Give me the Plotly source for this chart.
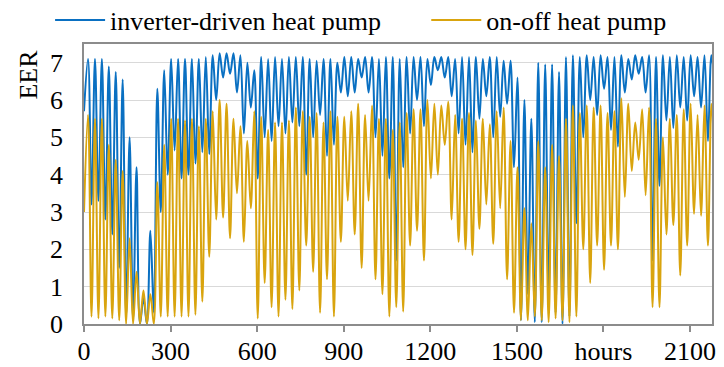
import plotly.graph_objects as go

# ---- data (EER per daily cycle) ----
inv_start = 5.7
on_start = 3.0

inv_peak = [7.1, 7.1, 7.1, 6.9, 6.75, 6.55, 5.0, 4.2, 0.7, 2.5,
            6.3, 6.8, 7.1, 7.1, 7.1, 7.1, 7.1, 7.15, 7.2, 7.25,
            7.25, 7.25, 7.2, 7.0, 6.8, 7.15, 7.1, 7.15, 7.1, 7.15,
            7.15, 7.15, 7.1, 7.05, 7.1, 7.1, 7.0, 7.15, 7.15, 7.1,
            7.15, 7.15, 7.1, 7.15, 7.15, 7.1, 7.15, 7.15, 7.15, 7.1,
            7.15, 7.15, 7.15, 7.1, 7.15, 7.15, 7.15, 7.1, 7.15, 7.15,
            7.05, 7.05, 6.6, 6.0, 5.5, 7.0, 6.95, 6.95, 6.75, 7.15,
            7.2, 7.15, 7.2, 7.15, 7.2, 7.15, 7.15, 7.2, 7.1, 7.2,
            7.15, 7.2, 7.15, 7.2, 7.15, 7.2, 7.15, 7.2, 7.15, 7.2, 7.2]

inv_trough = [3.2, 3.3, 2.8, 2.4, 1.5, 0.2, 0.1, 0.0, 0.0, 0.3,
              3.0, 4.0, 4.65, 3.9, 4.0, 4.3, 4.6, 4.55, 6.0, 6.6,
              6.7, 6.2, 5.1, 5.8, 3.9, 5.0, 4.9, 5.3, 5.1, 5.4,
              5.3, 4.0, 5.0, 5.6, 4.5, 4.8, 6.2, 6.1, 6.2, 6.6,
              6.2, 5.0, 4.5, 3.9, 1.7, 4.2, 5.1, 6.0, 5.3, 6.4,
              6.8, 6.6, 6.1, 5.1, 4.8, 4.6, 5.5, 6.1, 5.0, 5.55,
              5.9, 4.2, 0.1, 0.8, 0.05, 0.05, 0.7, 0.3, 0.0, 0.2,
              2.7, 5.0, 6.0, 5.6, 6.3, 5.2, 4.75, 6.2, 6.55, 6.7,
              6.2, 1.7, 3.7, 5.45, 5.25, 5.8, 5.45, 6.1, 5.8, 4.9, 6.4]

on_peak = [5.6, 5.5, 5.5, 4.8, 4.4, 4.1, 2.3, 1.4, 0.9, 0.8,
           3.8, 4.8, 5.5, 5.5, 5.45, 5.5, 5.3, 5.5, 5.7, 6.0,
           5.9, 5.5, 5.3, 4.9, 5.7, 5.55, 5.2, 5.4, 5.4, 5.45,
           5.8, 5.7, 5.55, 5.65, 5.4, 5.7, 5.55, 5.55, 5.7, 5.9,
           5.6, 5.85, 5.5, 5.5, 5.2, 5.4, 5.65, 5.75, 5.75, 6.0,
           5.9, 5.85, 5.95, 5.6, 5.5, 5.65, 5.45, 5.5, 5.35, 5.7,
           5.8, 4.9, 4.2, 3.1, 2.7, 4.9, 4.2, 4.8, 4.5, 5.5,
           5.85, 5.65, 5.85, 5.8, 5.85, 5.65, 5.7, 6.05, 5.9, 5.4,
           5.75, 5.8, 5.5, 5.0, 5.5, 5.6, 5.75, 5.9, 5.6, 5.85, 5.9]

on_trough = [0.2, 0.15, 0.2, 0.15, 0.1, 0.0, 0.0, 0.0, 0.0, 0.0,
             0.2, 0.2, 0.2, 0.2, 0.2, 0.25, 0.6, 1.8, 2.8, 2.85,
             2.3, 3.5, 2.2, 3.1, 0.15, 1.1, 0.45, 0.2, 0.65, 0.4,
             0.9, 2.1, 1.4, 0.3, 1.2, 0.2, 2.2, 3.3, 2.4, 1.5,
             3.3, 1.2, 0.8, 0.2, 0.45, 0.33, 2.1, 2.5, 1.7, 3.9,
             4.0, 4.8, 2.8, 2.2, 2.0, 1.85, 2.55, 3.2, 2.15, 3.1,
             1.2, 0.3, 0.1, 0.1, 0.2, 0.1, 0.05, 0.15, 0.1, 0.05,
             0.2, 2.0, 1.1, 2.1, 1.45, 2.1, 2.0, 3.4, 4.1, 4.4,
             3.45, 0.45, 0.45, 2.4, 2.65, 1.3, 2.1, 2.95, 2.9, 2.1, 3.6]

peak_hour_of_day = 14
trough_hour_of_day = 26
x_tick_vals = [0, 300, 600, 900, 1200, 1500, 1800, 2100]
x_tick_text = ["0", "300", "600", "900", "1200", "1500", "hours", "2100"]
y_tick_vals = [0, 1, 2, 3, 4, 5, 6, 7]

# ---- build series ----
hours = [0]
for d in range(len(inv_peak)):
    hours += [24 * d + peak_hour_of_day, 24 * d + trough_hour_of_day]


def series(start, peaks, troughs):
    ys = [start]
    for p, t in zip(peaks, troughs):
        ys += [p, t]
    return ys


inv = series(inv_start, inv_peak, inv_trough)
onoff = series(on_start, on_peak, on_trough)

BLUE = "#0A70C2"
GOLD = "#D9A40E"
FONT = "Liberation Serif"
FS = 26

fig = go.Figure()
fig.add_trace(go.Scatter(x=hours, y=inv, mode="lines", name="inverter-driven heat pump",
                         legend="legend",
                         line=dict(color=BLUE, width=2.0, shape="spline", smoothing=1.0)))
fig.add_trace(go.Scatter(x=hours, y=onoff, mode="lines", name="on-off heat pump",
                         legend="legend2",
                         line=dict(color=GOLD, width=2.0, shape="spline", smoothing=1.0)))

leg_common = dict(orientation="h", yanchor="middle", y=1.085, xanchor="left",
                  font=dict(family=FONT, size=FS, color="black"),
                  itemwidth=50, bgcolor="rgba(0,0,0,0)")

# the page body adds an 8 px offset, so the figure is 8 px smaller
fig.update_layout(
    width=716, height=359,
    margin=dict(l=76, r=12, t=36, b=43, autoexpand=False),
    paper_bgcolor="white", plot_bgcolor="white",
    font=dict(family=FONT, size=FS, color="black"),
    showlegend=True,
    legend=dict(x=-0.054, **leg_common),
    legend2=dict(x=0.545, **leg_common),
    xaxis=dict(range=[0, 2176], tickvals=x_tick_vals, ticktext=x_tick_text,
               ticks="outside", ticklen=6, tickcolor="#8c8c8c", tickwidth=1.5,
               ticklabelstandoff=-3,
               showline=True, linecolor="#8c8c8c", linewidth=1.5, mirror=True,
               showgrid=False, zeroline=False,
               tickfont=dict(family=FONT, size=FS, color="black")),
    yaxis=dict(range=[0, 7.5], tickvals=y_tick_vals,
               ticks="", showline=True, linecolor="#8c8c8c", linewidth=1.5, mirror=True,
               showgrid=True, gridcolor="#d9d9d9", gridwidth=1.3, zeroline=False,
               ticklabelstandoff=14,
               tickfont=dict(family=FONT, size=FS, color="black")),
    annotations=[dict(text="EER", textangle=-90, xref="paper", yref="paper",
                      x=-0.088, y=0.89, xanchor="center", yanchor="middle",
                      showarrow=False, font=dict(family=FONT, size=FS, color="black"))],
)

fig.write_html("out.html")
